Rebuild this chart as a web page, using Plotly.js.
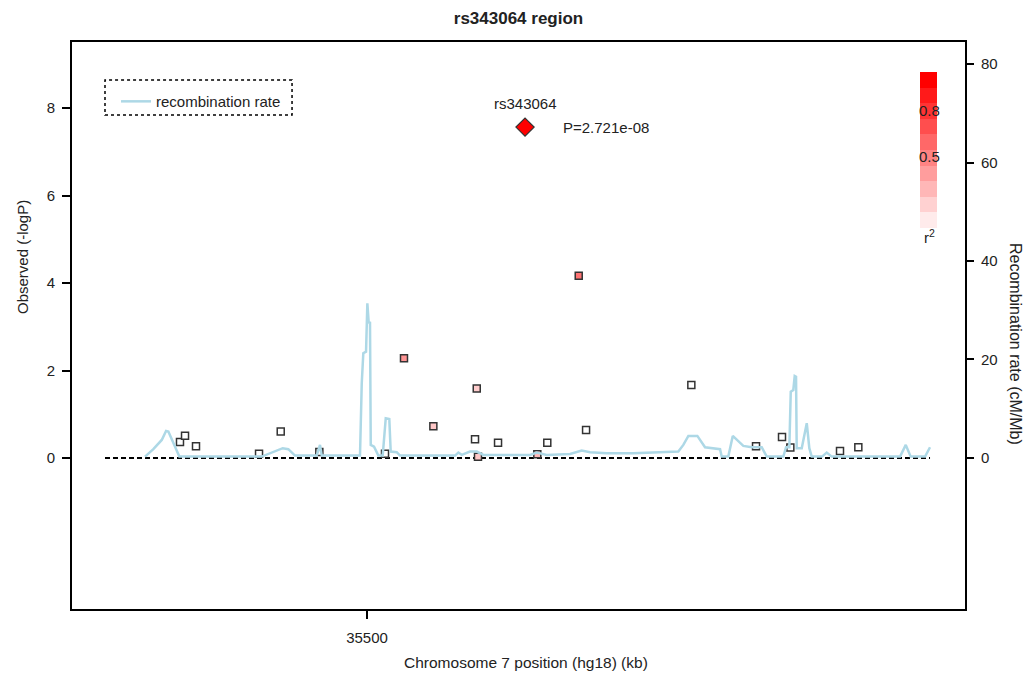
<!DOCTYPE html>
<html>
<head>
<meta charset="utf-8">
<script src="https://cdn.plot.ly/plotly-3.0.1.min.js"></script>
<style>html,body{margin:0;padding:0;background:#fff;}#chart{width:1027px;height:675px;}</style>
</head>
<body>
<div id="chart"></div>
<script>
// ---- data ----
const snpName = 'rs343064';
const snpPosKb = 35519.15;
const snpP = 2.721e-08;
const snpLogP = 7.565;

const posKb = [35477.33, 35477.94, 35479.27, 35486.91, 35489.54, 35494.22, 35502.18, 35504.48,
  35508.04, 35513.30, 35513.09, 35513.45, 35515.88, 35520.64, 35521.85, 35525.66, 35526.55,
  35539.31, 35547.15, 35550.30, 35551.31, 35557.33, 35559.55];
const logP = [0.37, 0.51, 0.27, 0.10, 0.61, 0.14, 0.10, 2.28,
  0.73, 1.59, 0.43, 0.03, 0.35, 0.09, 0.35, 4.17, 0.64,
  1.67, 0.27, 0.48, 0.24, 0.16, 0.25];
const r2 = [0, 0, 0, 0, 0, 0, 0, 0.42,
  0.22, 0.2, 0, 0.22, 0, 0.28, 0, 0.55, 0,
  0, 0, 0, 0, 0, 0];

const recKb = [35473.09, 35474.10, 35475.12, 35475.64, 35475.92, 35476.52, 35477.25, 35487.24,
  35488.24, 35489.05, 35489.78, 35490.46, 35491.27, 35493.90, 35494.30, 35494.51, 35499.15,
  35499.36, 35499.55, 35499.88, 35500.04, 35500.21, 35500.36, 35500.45, 35500.85, 35501.37,
  35501.90, 35502.27, 35502.70, 35502.87, 35503.60, 35504.00, 35510.67, 35511.07, 35511.48,
  35512.48, 35513.30, 35514.10, 35519.76, 35520.57, 35521.78, 35524.61, 35526.02, 35527.03,
  35529.05, 35532.28, 35535.52, 35537.73, 35538.34, 35538.95, 35540.04, 35540.97, 35542.79,
  35542.99, 35543.79, 35544.33, 35545.61, 35546.63, 35547.84, 35548.45, 35550.46, 35550.79,
  35551.19, 35551.36, 35551.67, 35551.84, 35552.00, 35552.08, 35552.69, 35553.30, 35553.61,
  35553.90, 35555.15, 35555.72, 35556.33, 35564.61, 35565.30, 35565.90, 35567.64, 35568.24];
const recRate = [0.26, 1.77, 3.65, 5.48, 5.34, 2.98, 0.26, 0.26,
  0.95, 1.42, 1.97, 1.77, 0.47, 0.47, 2.64, 0.47, 0.47,
  15.17, 21.26, 21.58, 31.41, 27.35, 27.68, 2.64, 2.29, 0.47,
  0.47, 8.06, 7.92, 1.28, 1.16, 0.47, 0.47, 1.08, 0.61,
  1.28, 1.28, 0.61, 0.61, 1.08, 0.61, 0.81, 1.48, 1.16,
  0.95, 0.95, 1.08, 1.28, 2.64, 4.47, 4.47, 2.17, 1.77,
  0.26, 0.26, 4.47, 2.44, 2.17, 2.17, 0.26, 0.26, 2.17,
  2.17, 13.46, 13.81, 16.65, 16.51, 1.97, 1.97, 7.05, 1.97,
  0.26, 0.26, 1.08, 0.26, 0.26, 2.64, 0.26, 0.26, 2.17];

const regionKb = [35468.24, 35568.24];
const xTicks = [35500];
const yTicks = [0, 2, 4, 6, 8];
const y2Ticks = [0, 20, 40, 60, 80];
const r2Labels = [0.8, 0.5];

// ---- styling ----
const FONT = 'Liberation Sans, Arial, Helvetica, sans-serif';
const TXT = '#222';
const nSteps = 10;
const stepScale = [];
for (let k = 0; k < nSteps; k++) {
  const g = Math.round(235 - k * 235 / (nSteps - 1));
  const c = 'rgb(255,' + g + ',' + g + ')';
  stepScale.push([k / nSteps, c]);
  stepScale.push([(k + 1) / nSteps, c]);
}

const traces = [
  {
    x: recKb, y: recRate, yaxis: 'y2', type: 'scatter', mode: 'lines',
    name: 'recombination rate',
    line: {color: '#ADD8E6', width: 2.5},
    hoverinfo: 'skip'
  },
  {
    x: regionKb, y: [0, 0], type: 'scatter', mode: 'lines',
    line: {color: '#000', width: 2, dash: '5px,3px'},
    showlegend: false, hoverinfo: 'skip'
  },
  {
    x: posKb, y: logP, type: 'scatter', mode: 'markers', showlegend: false,
    marker: {symbol: 'square', size: 7, color: r2, cmin: 0, cmax: 1,
      colorscale: [[0, '#ffffff'], [1, '#ff0000']],
      line: {color: '#333', width: 1.5}}
  },
  {
    x: [snpPosKb], y: [snpLogP], type: 'scatter', mode: 'markers', showlegend: false,
    marker: {symbol: 'diamond', size: 14, color: '#ff0000', line: {color: '#333', width: 1.2}}
  },
  {
    x: [null, null], y: [null, null], type: 'scatter', mode: 'markers', showlegend: false,
    hoverinfo: 'skip',
    marker: {color: [0, 1], cmin: 0, cmax: 1, colorscale: stepScale, showscale: true,
      colorbar: {x: 0.9496, xanchor: 'left', xpad: 0, ypad: 0, thickness: 17,
        lenmode: 'pixels', len: 156, y: 0.8095, yanchor: 'middle',
        outlinewidth: 0, showticklabels: false, ticks: ''}}
  }
];

const ax = {
  showline: true, mirror: true, linewidth: 2, linecolor: '#000',
  showgrid: false, zeroline: false, ticks: 'outside', ticklen: 8, tickwidth: 1.5,
  tickcolor: '#000', tickfont: {family: FONT, size: 15, color: TXT}
};

const layout = {
  width: 1027, height: 675,
  margin: {l: 72, r: 62, t: 42, b: 66},
  paper_bgcolor: '#fff', plot_bgcolor: '#fff',
  font: {family: FONT, size: 15, color: TXT},
  title: {text: '<b>rs343064 region</b>', x: 0.5, xref: 'paper', xanchor: 'center',
    y: 1 - 18 / 675, yref: 'container', yanchor: 'middle',
    font: {family: FONT, size: 17, color: TXT}},
  xaxis: Object.assign({}, ax, {range: [35464.24, 35572.48], tickmode: 'array',
    tickvals: xTicks, ticktext: xTicks.map(String), ticklabelstandoff: 6}),
  yaxis: Object.assign({}, ax, {range: [-3.45, 9.51], tickmode: 'array', tickvals: yTicks,
    ticklabelstandoff: 4}),
  yaxis2: Object.assign({}, ax, {overlaying: 'y', side: 'right', showline: false, mirror: false,
    range: [-30.7, 84.5], tickmode: 'array', tickvals: y2Ticks, ticklabelstandoff: 4}),
  showlegend: true,
  legend: {x: 0.0493, y: 0.924, xanchor: 'left', yanchor: 'top', bgcolor: 'rgba(0,0,0,0)',
    borderwidth: 0, font: {family: FONT, size: 15, color: TXT}},
  shapes: [
    {type: 'rect', xref: 'paper', yref: 'paper', x0: 0.03695, x1: 0.2464, y0: 0.8713, y1: 0.933,
      line: {color: '#000', width: 1.5, dash: '3px,3px'}, fillcolor: 'rgba(0,0,0,0)'}
  ],
  annotations: [
    {text: 'Observed (-logP)', textangle: -90, xref: 'paper', yref: 'paper', x: -0.056, y: 0.6208,
      showarrow: false, xanchor: 'center', yanchor: 'middle', font: {size: 15, color: TXT}},
    {text: 'Recombination rate (cM/Mb)', textangle: 90, xref: 'paper', yref: 'paper', x: 1.056, y: 0.4674,
      showarrow: false, xanchor: 'center', yanchor: 'middle', font: {size: 16, color: TXT}},
    {text: 'Chromosome 7 position (hg18) (kb)', xref: 'paper', yref: 'paper', x: 0.5081, y: -0.0952,
      showarrow: false, xanchor: 'center', yanchor: 'middle', font: {size: 15.5, color: TXT}},
    {text: snpName, xref: 'x', yref: 'y', x: snpPosKb, y: snpLogP, yshift: 24,
      showarrow: false, xanchor: 'center', yanchor: 'middle', font: {size: 15, color: TXT}},
    {text: 'P=' + snpP.toExponential(3).replace('e-', 'e-0'), xref: 'x', yref: 'y', x: snpPosKb, y: snpLogP,
      xshift: 36, showarrow: false, xanchor: 'left', yanchor: 'middle', font: {size: 15, color: TXT}},
    {text: String(r2Labels[0]), xref: 'paper', yref: 'paper', x: (929 - 72) / 893, y: (609 - 110) / 567,
      showarrow: false, xanchor: 'center', yanchor: 'middle', font: {size: 15, color: TXT}},
    {text: String(r2Labels[1]), xref: 'paper', yref: 'paper', x: (929 - 72) / 893, y: (609 - 156) / 567,
      showarrow: false, xanchor: 'center', yanchor: 'middle', font: {size: 15, color: TXT}},
    {text: 'r<sup>2</sup>', xref: 'paper', yref: 'paper', x: (929 - 72) / 893, y: (609 - 236) / 567,
      showarrow: false, xanchor: 'center', yanchor: 'middle', font: {size: 15, color: TXT}}
  ]
};

Plotly.newPlot('chart', traces, layout, {displayModeBar: false, responsive: false});
</script>
</body>
</html>
